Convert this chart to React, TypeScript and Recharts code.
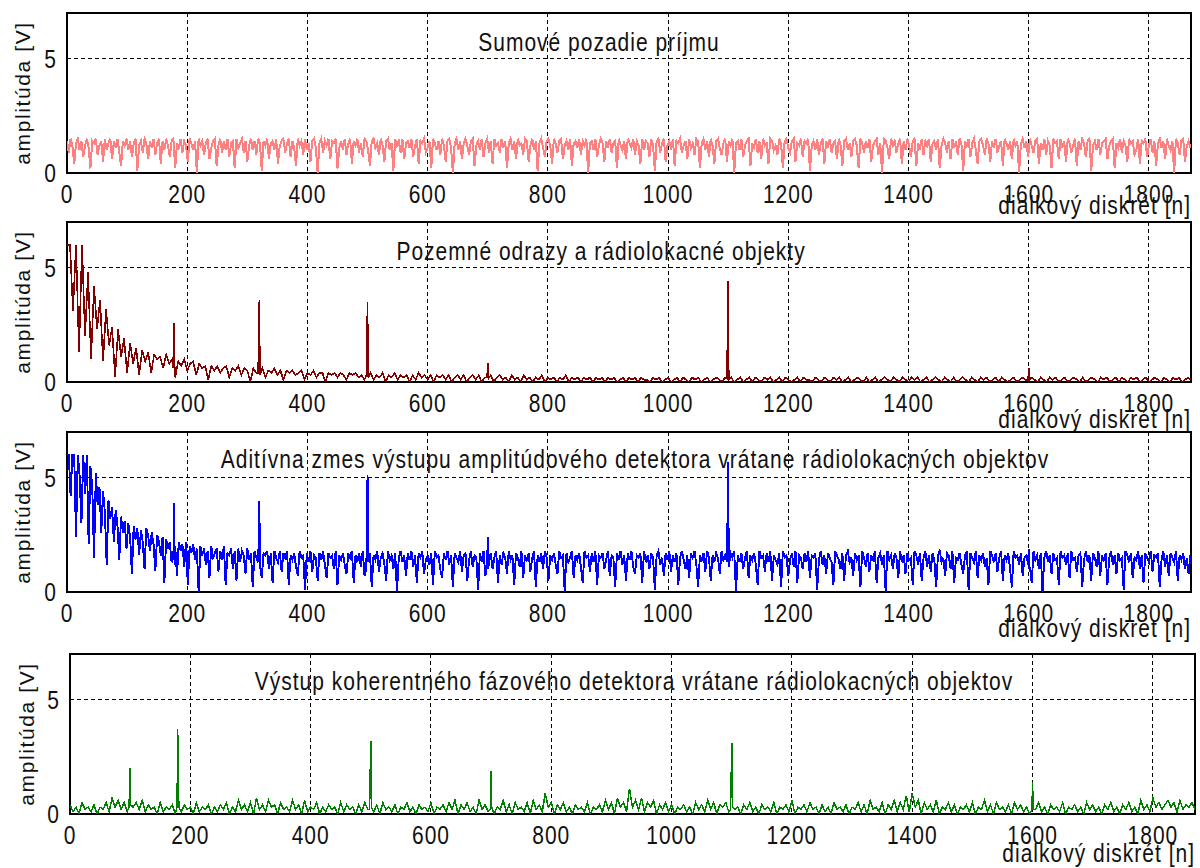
import React from 'react'
import {
  LineChart,
  Line,
  XAxis,
  YAxis,
  CartesianGrid,
  ReferenceArea,
} from 'recharts'

// range bin index n runs 0..1870
const N_MAX = 1870
const X_TICKS = [0, 200, 400, 600, 800, 1000, 1200, 1400, 1600, 1800]
const Y_TICKS = [0, 5]
const X_LABEL = 'dialkový diskrét [n]'
const Y_LABEL = 'amplitúda [V]'

const TITLES = [
  'Sumové pozadie príjmu',
  'Pozemné odrazy a rádiolokacné objekty',
  'Aditívna zmes výstupu amplitúdového detektora vrátane rádiolokacných objektov',
  'Výstup koherentného fázového detektora vrátane rádiolokacných objektov',
]

// receiver noise floor, one reading every 3 bins
const noiseFloorStep = 3
const noiseFloor = [
  1.4, 0.9, 1.5, 1.2, 0.4, 1.3, 1.5, 1.0, 1.4, 0.7, 1.2, 1.5, 1.1, 0.2, 1.4, 1.3, 1.5, 0.8, 1.2, 1.4, 0.5, 1.5, 1.0, 1.3,
  1.5, 0.6, 1.4, 1.1, 1.5, 0.9, 0.3, 1.4, 1.2, 1.5, 1.0, 1.4, 0.7, 1.3, 1.5, 0.1, 1.2, 1.4, 0.9, 1.5, 1.3, 0.6, 1.4, 1.1,
  1.5, 0.8, 1.3, 1.5, 0.4, 1.4, 1.0, 1.5, 1.2, 0.7, 1.4, 1.5, 0.2, 1.3, 1.1, 1.5, 0.9, 1.4, 1.2, 0.5, 1.5, 1.3, 1.0, 1.4,
  0.0, 1.5, 1.2, 1.4, 0.8, 1.3, 1.5, 0.6, 1.1, 1.4, 1.5, 0.3, 1.2, 1.5, 0.9, 1.4, 1.0, 1.5, 0.7, 1.3, 1.4, 0.2, 1.5, 1.1,
  1.3, 1.5, 0.9, 1.4, 0.5, 1.2, 1.5, 1.0, 1.4, 0.8, 1.5, 1.3, 0.1, 1.4, 1.2, 1.5, 0.6, 1.3, 1.4, 1.0, 1.5, 0.4, 1.2, 1.4,
  1.5, 0.9, 1.3, 1.5, 0.7, 1.4, 1.1, 0.3, 1.5, 1.2, 1.4, 0.8, 1.5, 1.0, 1.3, 0.5, 1.4, 1.5, 1.1, 0.0, 1.3, 1.5, 0.9, 1.4,
  1.2, 1.5, 0.6, 1.4, 1.3, 1.5, 0.2, 1.1, 1.4, 1.0, 1.5, 0.8, 1.3, 1.5, 0.4, 1.4, 1.2, 1.5, 0.9, 1.3, 0.7, 1.5, 1.4, 1.0,
  0.3, 1.4, 1.5, 1.1, 1.3, 0.8, 1.5, 1.2, 0.5, 1.4, 1.5, 1.0, 1.3, 0.1, 1.5, 1.2, 1.4, 0.9, 1.5, 0.6, 1.3, 1.4, 1.1, 1.5,
  0.7, 1.2, 1.5, 0.4, 1.4, 1.3, 1.5, 0.9, 1.1, 1.4, 0.2, 1.5, 1.3, 1.0, 1.4, 0.8, 1.5, 1.2, 0.5, 1.4, 1.5, 1.1, 0.0, 1.3,
  1.5, 1.0, 1.4, 0.6, 1.3, 1.5, 1.2, 0.8, 1.4, 1.5, 0.3, 1.2, 1.4, 1.0, 1.5, 0.7, 1.3, 1.5, 0.9, 1.4, 0.4, 1.5, 1.2, 1.3,
  0.9, 1.5, 1.1, 1.4, 0.2, 1.3, 1.5, 1.0, 1.4, 0.6, 1.5, 1.2, 1.3, 0.8, 1.5, 1.4, 0.5, 1.2, 1.5, 1.0, 1.4, 0.1, 1.3, 1.5,
  1.1, 0.7, 1.4, 1.5, 1.2, 0.4, 1.5, 1.3, 0.9, 1.4, 1.5, 0.6, 1.2, 1.4, 1.0, 1.5, 0.3, 1.3, 1.4, 1.1, 1.5, 0.8, 1.4, 1.2,
  1.5, 0.0, 1.3, 1.4, 1.0, 1.5, 0.7, 1.2, 1.5, 1.3, 0.5, 1.4, 1.1, 1.5, 0.9, 1.3, 1.4, 0.2, 1.5, 1.2, 1.0, 1.4, 0.6, 1.5,
  1.3, 1.1, 1.5, 0.8, 1.4, 1.2, 0.4, 1.5, 1.0, 1.4, 1.3, 0.7, 1.5, 1.2, 0.1, 1.4, 1.5, 0.9, 1.3, 1.5, 0.5, 1.2, 1.4, 1.0,
  1.5, 0.3, 1.4, 1.3, 1.5, 0.9, 1.2, 1.4, 0.6, 1.5, 1.1, 1.3, 0.8, 1.5, 1.4, 0.2, 1.3, 1.5, 1.0, 1.4, 0.7, 1.5, 1.2, 0.4,
  1.4, 1.5, 1.1, 0.8, 1.3, 1.5, 0.5, 1.4, 1.2, 1.5, 0.0, 1.3, 1.4, 1.0, 1.5, 0.7, 1.2, 1.4, 1.5, 0.3, 1.3, 1.1, 1.5, 0.9,
  1.4, 0.6, 1.5, 1.2, 1.3, 0.4, 1.5, 1.4, 1.0, 1.2, 0.8, 1.5, 1.3, 0.2, 1.4, 1.5, 1.1, 0.9, 1.4, 1.5, 0.5, 1.3, 1.2, 1.5,
  0.7, 1.4, 1.3, 1.5, 0.1, 1.2, 1.4, 1.0, 1.5, 0.8, 1.3, 1.5, 0.4, 1.4, 1.1, 1.5, 0.9, 1.3, 1.4, 0.6, 1.5, 1.2, 0.3, 1.4,
  1.5, 1.0, 1.3, 0.7, 1.4, 1.5, 1.2, 0.2, 1.5, 1.3, 0.9, 1.4, 1.1, 1.5, 0.5, 1.2, 1.4, 1.5, 0.8, 1.3, 0.0, 1.5, 1.4, 1.1,
  0.6, 1.5, 1.2, 1.4, 0.9, 1.3, 1.5, 0.4, 1.4, 1.0, 1.5, 1.2, 0.7, 1.4, 1.5, 0.3, 1.3, 1.1, 1.5, 0.8, 1.4, 1.2, 1.5, 0.5,
  1.3, 1.4, 1.0, 1.5, 0.2, 1.2, 1.5, 1.3, 0.9, 1.4, 0.6, 1.5, 1.1, 1.4, 0.8, 1.5, 1.3, 0.1, 1.4, 1.2, 1.5, 0.7, 1.3, 1.5,
  1.0, 0.4, 1.4, 1.5, 1.2, 0.8, 1.5, 1.3, 0.5, 1.4, 1.1, 1.5, 0.9, 1.2, 1.4, 0.3, 1.5, 1.3, 1.0, 1.4, 0.6, 1.5, 1.2, 1.4,
  0.0, 1.3, 1.5, 1.1, 1.4, 0.7, 1.5, 1.2, 0.9, 1.4, 1.5, 0.4, 1.3, 1.0, 1.5, 0.8, 1.4, 1.2, 0.2, 1.5, 1.3, 1.4, 0.6, 1.5,
  1.1, 1.4, 0.5, 1.5, 1.3, 0.9, 1.2, 1.5, 0.3, 1.4, 1.0, 1.5, 1.3, 0.7, 1.4, 1.5, 0.1, 1.2, 1.4, 1.0, 1.5, 0.8, 1.3, 1.4,
  1.5, 0.6, 1.2, 1.4, 1.5, 0.2, 1.3, 1.1, 1.5, 0.9, 1.4, 1.2, 0.5, 1.5, 1.3, 1.4, 0.8, 1.0, 1.5, 0.4, 1.4, 1.3, 1.5, 0.7,
  1.2, 1.5, 0.9, 1.4, 0.3, 1.3, 1.5, 1.1, 1.4, 0.6, 1.5, 1.2, 1.0, 1.4, 0.0, 1.5, 1.3, 0.8, 1.4, 1.5, 0.5, 1.2, 1.4, 1.1,
]

// ground clutter (saturates at 6 V near the radar), one reading every 5 bins
const clutterStep = 5
const clutter = [
  6.0, 6.0, 3.1, 6.0, 1.3, 6.0, 2.0, 4.8, 1.0, 4.2, 2.3, 3.6, 0.9, 3.2, 1.6, 2.4, 0.2, 2.3, 1.1, 1.9, 0.4, 1.7, 0.8, 1.5, 0.3,
  1.4, 0.9, 1.3, 0.4, 1.2, 1.0, 1.1, 0.6, 1.2, 0.8, 1.0, 0.2, 0.9, 0.7, 1.0, 0.5, 0.8, 0.9, 0.3, 0.8, 0.6, 0.7, 0.1, 0.7, 0.5,
  0.7, 0.4, 0.6, 0.7, 0.2, 0.6, 0.5, 0.7, 0.3, 0.6, 0.5, 0.0, 0.6, 0.4, 0.5, 0.6, 0.2, 0.5, 0.4, 0.6, 0.3, 0.5, 0.1, 0.5, 0.4,
  0.5, 0.3, 0.4, 0.5, 0.1, 0.4, 0.3, 0.5, 0.2, 0.4, 0.4, 0.0, 0.4, 0.3, 0.4, 0.2, 0.4, 0.3, 0.1, 0.4, 0.3, 0.4, 0.2, 0.3, 0.1,
  0.2, 0.4, 0.1, 0.3, 0.2, 0.4, 0.0, 0.3, 0.2, 0.4, 0.1, 0.3, 0.2, 0.3, 0.0, 0.3, 0.1, 0.4, 0.2, 0.3, 0.1, 0.3, 0.0, 0.3, 0.2,
  0.3, 0.1, 0.3, 0.0, 0.2, 0.3, 0.1, 0.3, 0.0, 0.2, 0.3, 0.1, 0.3, 0.0, 0.2, 0.1, 0.3, 0.0, 0.2, 0.3, 0.1, 0.2, 0.0, 0.3, 0.1,
  0.2, 0.0, 0.3, 0.1, 0.2, 0.0, 0.2, 0.1, 0.3, 0.0, 0.2, 0.1, 0.2, 0.0, 0.2, 0.1, 0.3, 0.0, 0.2, 0.1, 0.2, 0.0, 0.2, 0.1, 0.2,
  0.0, 0.2, 0.1, 0.2, 0.0, 0.2, 0.1, 0.2, 0.0, 0.1, 0.2, 0.0, 0.2, 0.1, 0.2, 0.0, 0.2, 0.1, 0.1, 0.0, 0.2, 0.1, 0.2, 0.0, 0.1,
  0.2, 0.0, 0.1, 0.2, 0.0, 0.2, 0.1, 0.0, 0.2, 0.1, 0.2, 0.0, 0.1, 0.2, 0.0, 0.1, 0.2, 0.1, 0.0, 0.2, 0.1, 0.2, 0.0, 0.1, 0.2,
  0.0, 0.1, 0.2, 0.0, 0.2, 0.1, 0.0, 0.2, 0.1, 0.2, 0.0, 0.1, 0.2, 0.0, 0.2, 0.1, 0.0, 0.1, 0.2, 0.0, 0.2, 0.1, 0.1, 0.0, 0.2,
  0.1, 0.0, 0.2, 0.1, 0.0, 0.2, 0.1, 0.2, 0.0, 0.1, 0.2, 0.0, 0.1, 0.2, 0.1, 0.0, 0.2, 0.0, 0.1, 0.2, 0.0, 0.1, 0.2, 0.1, 0.0,
  0.2, 0.1, 0.0, 0.2, 0.1, 0.0, 0.2, 0.1, 0.2, 0.0, 0.1, 0.2, 0.0, 0.1, 0.2, 0.1, 0.0, 0.2, 0.1, 0.0, 0.2, 0.0, 0.1, 0.2, 0.1,
  0.0, 0.2, 0.1, 0.0, 0.2, 0.1, 0.2, 0.0, 0.1, 0.2, 0.0, 0.2, 0.1, 0.0, 0.1, 0.2, 0.0, 0.1, 0.2, 0.1, 0.0, 0.2, 0.1, 0.0, 0.2,
  0.1, 0.0, 0.2, 0.1, 0.2, 0.0, 0.1, 0.2, 0.0, 0.1, 0.2, 0.1, 0.0, 0.2, 0.0, 0.1, 0.2, 0.1, 0.0, 0.2, 0.1, 0.2, 0.0, 0.1, 0.2,
  0.0, 0.2, 0.1, 0.0, 0.2, 0.1, 0.2, 0.0, 0.1, 0.2, 0.0, 0.1, 0.2, 0.1, 0.0, 0.2, 0.1, 0.0, 0.2, 0.1, 0.2, 0.0, 0.1, 0.2, 0.1,
]
const clutterSpikeN = [177, 178, 179, 318, 319, 320, 321, 498, 499, 500, 501, 699, 700, 701, 1098, 1099, 1100, 1101, 1599, 1600, 1601]
const clutterSpikeV = [0.6, 2.6, 0.8, 0.4, 1.9, 3.6, 0.3, 0.3, 1.8, 3.5, 0.2, 0.2, 0.85, 0.15, 0.15, 2.3, 4.4, 0.1, 0.1, 0.6, 0.1]

// amplitude detector output: clutter + noise + targets, one reading every 3 bins
const mixtureStep = 3
const mixture = [
  6.0, 6.0, 4.2, 6.0, 6.0, 2.4, 6.0, 5.1, 3.0, 6.0, 4.3, 6.0, 2.1, 5.5, 4.6, 1.5, 5.2, 3.8, 4.6, 2.6, 4.4, 3.5, 1.2, 4.0,
  3.2, 3.7, 2.2, 3.6, 2.9, 1.4, 3.3, 2.6, 3.1, 1.9, 3.0, 2.4, 0.8, 2.9, 2.3, 2.8, 1.6, 2.7, 2.2, 1.0, 2.8, 2.5, 1.8, 2.6,
  2.1, 0.9, 2.5, 2.2, 1.6, 2.4, 0.4, 2.3, 1.9, 2.2, 1.3, 2.4, 2.0, 0.7, 2.2, 1.8, 2.1, 1.1, 2.2, 0.3, 2.0, 1.7, 2.1, 1.4,
  1.9, 0.0, 2.0, 1.6, 1.9, 1.2, 1.8, 0.6, 2.0, 1.5, 1.7, 1.9, 0.9, 1.8, 1.4, 2.0, 0.3, 1.7, 1.6, 1.9, 1.0, 1.8, 0.5, 1.9,
  1.3, 1.8, 1.6, 0.8, 1.9, 1.4, 1.7, 0.2, 1.8, 1.5, 1.2, 1.9, 0.6, 1.7, 1.6, 1.8, 1.0, 1.7, 0.4, 1.8, 1.5, 1.3, 1.8, 0.9,
  1.7, 1.5, 1.8, 0.3, 1.6, 1.4, 1.7, 1.1, 0.7, 1.8, 1.5, 1.6, 0.1, 1.7, 1.3, 1.8, 0.9, 1.6, 1.5, 0.5, 1.7, 1.4, 1.8, 1.2,
  0.6, 1.7, 1.5, 1.6, 1.0, 1.8, 0.3, 1.6, 1.4, 1.7, 1.2, 0.8, 1.7, 1.5, 1.8, 0.4, 1.6, 1.3, 1.7, 1.1, 1.8, 0.7, 1.6, 1.5,
  1.7, 0.2, 1.6, 1.4, 1.8, 0.9, 1.5, 1.7, 1.2, 0.5, 1.8, 1.4, 1.6, 1.0, 1.7, 0.0, 1.5, 1.8, 1.3, 1.6, 0.7, 1.7, 1.4, 1.8,
  1.1, 1.6, 0.4, 1.7, 1.5, 1.8, 0.8, 1.4, 1.6, 1.2, 1.7, 0.3, 1.8, 1.5, 1.6, 1.0, 0.6, 1.7, 1.4, 1.8, 1.2, 1.6, 0.2, 1.7,
  1.5, 1.3, 1.8, 0.9, 1.6, 1.7, 0.5, 1.4, 1.8, 1.1, 1.6, 1.5, 0.1, 1.7, 1.3, 1.8, 0.7, 1.6, 1.4, 1.7, 1.0, 1.5, 1.8, 0.4,
  1.6, 1.2, 1.7, 1.5, 0.8, 1.8, 1.4, 1.6, 0.3, 1.7, 1.5, 1.1, 1.8, 0.6, 1.6, 1.4, 1.7, 0.9, 1.5, 1.8, 0.2, 1.6, 1.3, 1.7,
  1.0, 1.8, 1.5, 0.5, 1.6, 1.4, 1.7, 1.2, 0.8, 1.8, 1.5, 1.6, 0.0, 1.7, 1.3, 1.5, 1.8, 0.6, 1.6, 1.4, 1.7, 1.1, 0.4, 1.8,
  1.5, 1.6, 0.9, 1.7, 1.3, 1.8, 0.3, 1.6, 1.5, 1.7, 1.0, 1.4, 1.8, 0.7, 1.6, 1.5, 0.2, 1.7, 1.4, 1.8, 1.2, 1.6, 0.5, 1.7,
  1.4, 1.8, 1.1, 0.8, 1.6, 1.5, 1.7, 0.4, 1.8, 1.3, 1.6, 1.0, 1.7, 1.5, 0.1, 1.6, 1.8, 1.2, 1.5, 0.7, 1.7, 1.4, 1.8, 0.9,
  1.6, 1.3, 1.7, 0.3, 1.5, 1.8, 1.4, 1.0, 1.6, 0.6, 1.7, 1.5, 1.8, 1.2, 0.2, 1.6, 1.4, 1.7, 0.9, 1.8, 1.5, 0.5, 1.6, 1.3,
  1.7, 1.5, 0.8, 1.8, 1.4, 1.6, 1.1, 0.4, 1.7, 1.5, 1.8, 0.0, 1.6, 1.3, 1.7, 1.0, 1.5, 1.8, 0.6, 1.6, 1.4, 1.7, 1.2, 0.3,
  1.8, 1.5, 1.6, 0.9, 1.7, 1.3, 1.8, 0.5, 1.6, 1.4, 1.2, 1.7, 0.2, 1.8, 1.5, 1.6, 0.7, 1.4, 1.7, 1.1, 1.8, 0.4, 1.6, 1.5,
  1.0, 1.7, 1.3, 1.8, 0.6, 1.6, 1.5, 1.7, 0.1, 1.4, 1.8, 1.2, 1.6, 0.8, 1.7, 1.5, 1.3, 0.3, 1.8, 1.6, 1.4, 1.0, 1.7, 0.5,
  1.6, 1.8, 1.3, 1.5, 0.7, 1.7, 1.4, 1.6, 0.2, 1.8, 1.5, 1.1, 1.7, 0.9, 1.6, 1.4, 1.8, 0.4, 1.5, 1.7, 1.2, 1.6, 0.0, 1.8,
  1.4, 1.6, 1.0, 1.7, 1.5, 0.6, 1.8, 1.3, 1.6, 0.8, 1.7, 1.4, 1.5, 0.3, 1.8, 1.6, 1.2, 1.7, 0.5, 1.5, 1.8, 1.1, 1.6, 0.9,
  1.7, 1.4, 0.2, 1.6, 1.8, 1.3, 1.5, 0.7, 1.7, 1.6, 1.0, 1.8, 0.4, 1.5, 1.4, 1.7, 1.2, 0.8, 1.6, 1.8, 0.1, 1.7, 1.5, 1.3,
  1.8, 0.6, 1.6, 1.4, 1.7, 1.1, 1.5, 0.3, 1.8, 1.6, 1.3, 1.7, 0.9, 1.5, 1.8, 0.5, 1.6, 1.4, 1.7, 1.0, 0.2, 1.8, 1.5, 1.6,
  1.2, 1.7, 0.7, 1.5, 1.6, 1.9, 1.1, 0.4, 1.8, 1.4, 1.6, 1.0, 1.7, 0.0, 1.5, 1.8, 1.3, 1.6, 0.8, 1.7, 1.4, 1.5, 0.3, 1.8,
  1.5, 1.6, 1.2, 1.7, 0.6, 1.8, 1.4, 1.5, 0.9, 1.6, 1.7, 0.2, 1.4, 1.8, 1.3, 1.6, 0.5, 1.7, 1.5, 1.1, 1.8, 0.7, 1.6, 1.4,
  1.7, 0.3, 1.5, 1.8, 1.2, 1.6, 0.8, 1.7, 1.4, 1.5, 0.1, 1.8, 1.6, 1.3, 1.7, 0.6, 1.5, 1.4, 1.8, 1.0, 1.6, 0.4, 1.7, 1.5,
  1.3, 1.8, 0.9, 1.6, 1.5, 1.7, 0.2, 1.4, 1.8, 1.1, 1.6, 0.7, 1.7, 1.5, 1.3, 1.8, 0.5, 1.6, 1.4, 1.7, 1.0, 1.5, 0.8, 1.6,
]
const mixtureSpikeN = [177, 178, 179, 318, 319, 320, 321, 498, 499, 500, 501, 699, 700, 701, 1098, 1099, 1100, 1101, 1599, 1600, 1601]
const mixtureSpikeV = [1.5, 3.9, 1.2, 1.3, 2.4, 4.0, 1.2, 1.0, 3.3, 5.1, 1.3, 1.2, 2.4, 1.0, 1.3, 3.4, 5.7, 1.1, 1.2, 1.9, 1.0]

// coherent phase detector output, one reading every 5 bins
const coherentStep = 5
const coherent = [
  0.4, 0.1, 0.3, 0.0, 0.5, 0.2, 0.3, 0.1, 0.4, 0.0, 0.3, 0.2, 0.5, 0.1, 0.7, 0.3, 0.6, 0.2, 0.5, 0.1, 0.7, 0.3, 0.5, 0.2, 0.6,
  0.1, 0.4, 0.2, 0.3, 0.0, 0.5, 0.1, 0.3, 0.2, 0.4, 0.0, 0.3, 0.1, 0.4, 0.2, 0.3, 0.0, 0.5, 0.1, 0.3, 0.2, 0.4, 0.0, 0.3, 0.1,
  0.4, 0.2, 0.5, 0.0, 0.3, 0.1, 0.6, 0.2, 0.4, 0.1, 0.5, 0.0, 0.7, 0.2, 0.4, 0.1, 0.6, 0.3, 0.4, 0.0, 0.5, 0.2, 0.3, 0.1, 0.6,
  0.2, 0.4, 0.0, 0.6, 0.1, 0.3, 0.2, 0.5, 0.0, 0.3, 0.1, 0.4, 0.2, 0.3, 0.0, 0.5, 0.1, 0.4, 0.2, 0.3, 0.0, 0.4, 0.1, 0.5, 0.2,
  0.3, 0.1, 0.4, 0.0, 0.5, 0.2, 0.3, 0.1, 0.4, 0.0, 0.3, 0.2, 0.5, 0.1, 0.3, 0.0, 0.4, 0.2, 0.3, 0.1, 0.5, 0.0, 0.3, 0.2, 0.4,
  0.1, 0.5, 0.2, 0.6, 0.0, 0.4, 0.2, 0.5, 0.1, 0.3, 0.0, 0.6, 0.2, 0.4, 0.1, 0.5, 0.0, 0.3, 0.2, 0.6, 0.1, 0.4, 0.0, 0.5, 0.2,
  0.3, 0.1, 0.5, 0.0, 0.6, 0.2, 0.4, 0.1, 0.9, 0.3, 0.5, 0.0, 0.4, 0.2, 0.5, 0.1, 0.3, 0.0, 0.4, 0.2, 0.3, 0.1, 0.5, 0.0, 0.3,
  0.2, 0.4, 0.1, 0.6, 0.2, 0.5, 0.0, 0.7, 0.3, 0.5, 0.1, 1.1, 0.3, 0.6, 0.2, 0.7, 0.1, 0.5, 0.3, 0.6, 0.0, 0.4, 0.2, 0.5, 0.1,
  0.4, 0.0, 0.3, 0.2, 0.4, 0.1, 0.3, 0.0, 0.5, 0.2, 0.4, 0.1, 0.6, 0.2, 0.5, 0.0, 0.4, 0.3, 0.5, 0.1, 0.4, 0.2, 0.3, 0.0, 0.4,
  0.2, 0.5, 0.1, 0.3, 0.0, 0.4, 0.2, 0.3, 0.1, 0.5, 0.0, 0.3, 0.2, 0.4, 0.1, 0.6, 0.0, 0.3, 0.2, 0.4, 0.1, 0.5, 0.2, 0.3, 0.0,
  0.4, 0.1, 0.3, 0.0, 0.5, 0.2, 0.3, 0.1, 0.4, 0.0, 0.3, 0.2, 0.5, 0.1, 0.4, 0.0, 0.6, 0.2, 0.3, 0.1, 0.5, 0.0, 0.4, 0.2, 0.6,
  0.1, 0.5, 0.2, 0.8, 0.1, 0.9, 0.3, 0.6, 0.0, 0.5, 0.2, 0.4, 0.1, 0.6, 0.0, 0.3, 0.2, 0.5, 0.1, 0.4, 0.0, 0.3, 0.2, 0.4, 0.1,
  0.5, 0.0, 0.3, 0.2, 0.6, 0.1, 0.4, 0.0, 0.5, 0.2, 0.3, 0.1, 0.4, 0.0, 0.5, 0.2, 0.4, 0.1, 0.3, 0.0, 0.4, 0.2, 0.5, 0.1, 0.3,
  0.0, 0.4, 0.2, 0.3, 0.1, 0.5, 0.0, 0.3, 0.2, 0.4, 0.1, 0.3, 0.0, 0.5, 0.2, 0.4, 0.1, 0.3, 0.0, 0.4, 0.2, 0.5, 0.1, 0.3, 0.0,
  0.4, 0.2, 0.5, 0.1, 0.3, 0.0, 0.6, 0.2, 0.4, 0.1, 0.7, 0.3, 0.5, 0.2, 0.4, 0.6, 0.3, 0.5, 0.1, 0.6, 0.2, 0.4, 0.3, 0.5, 0.2,
]
const coherentSpikeN = [98, 99, 100, 101, 178, 179, 180, 181, 498, 499, 500, 501, 699, 700, 701, 1098, 1099, 1100, 1101, 1599, 1600, 1601]
const coherentSpikeV = [0.3, 1.0, 2.0, 0.4, 0.3, 3.7, 1.8, 0.3, 0.2, 1.8, 3.2, 0.3, 0.2, 1.9, 0.3, 0.2, 1.6, 3.1, 0.3, 0.2, 1.4, 0.2]

type Pt = { n: number; v: number }

// readings on a regular bin grid, spike samples override/insert at their own bins
function buildSeries(noise: number[], step: number, spikeN: number[] = [], spikeV: number[] = []): Pt[] {
  const pts: Pt[] = noise
    .map((v, i) => ({ n: i * step, v }))
    .filter((p) => p.n <= N_MAX && !spikeN.includes(p.n))
  spikeN.forEach((n, i) => pts.push({ n, v: spikeV[i] }))
  return pts.sort((a, b) => a.n - b.n)
}

const TEXT_STYLE: React.CSSProperties = {
  fontFamily: '"Liberation Sans", Arial, sans-serif',
  fontSize: 21,
  letterSpacing: 1,
  fill: '#111',
}
const STRETCH = 1.2
const MT = 8 // chart top margin
const PLOT_H = 160
const AXIS_H = 54

// MATLAB-style aliased rendering for traces and grid
const CRISP_CSS = `
.recharts-line-curve { shape-rendering: crispEdges; }
.recharts-cartesian-grid line { shape-rendering: crispEdges; }
.recharts-reference-area-rect { shape-rendering: crispEdges; }
`

const XTick = ({ x, y, payload }: any) => (
  <g transform={`translate(${x},${y}) scale(1,${STRETCH})`}>
    <text x={0} y={15} textAnchor="middle" style={TEXT_STYLE}>
      {payload.value}
    </text>
  </g>
)

const YTick = ({ x, y, payload }: any) => (
  <g transform={`translate(${x},${y}) scale(1,${STRETCH})`}>
    <text x={0} y={7.5} textAnchor="end" style={TEXT_STYLE}>
      {payload.value}
    </text>
  </g>
)

interface PanelProps {
  top: number
  left: number
  right: number
  color: string
  lineWidth: number
  title: string
  titleX: number
  titleDy: number
  xLabelDy: number
  yLabelX: number
  data: Pt[]
}

const Panel: React.FC<PanelProps> = ({
  top,
  left,
  right,
  color,
  lineWidth,
  title,
  titleX,
  titleDy,
  xLabelDy,
  yLabelX,
  data,
}) => {
  const plotBottom = MT + PLOT_H
  const titleLabel = () => (
    <g transform={`translate(${titleX},${MT + titleDy}) scale(1,${STRETCH})`}>
      <text x={0} y={0} textAnchor="middle" style={TEXT_STYLE}>
        {title}
      </text>
    </g>
  )
  const xLabel = () => (
    <g transform={`translate(${right},${plotBottom + xLabelDy}) scale(1,${STRETCH})`}>
      <text x={0} y={0} textAnchor="end" style={TEXT_STYLE}>
        {X_LABEL}
      </text>
    </g>
  )
  const yLabel = () => (
    <text
      transform={`translate(${yLabelX},${MT + PLOT_H / 2}) rotate(-90)`}
      textAnchor="middle"
      style={{ ...TEXT_STYLE, letterSpacing: 1.6 }}
    >
      {Y_LABEL}
    </text>
  )

  return (
    <div style={{ position: 'absolute', left: 0, top: top - MT }}>
      <LineChart
        width={1200}
        height={MT + PLOT_H + AXIS_H}
        data={data}
        margin={{ top: MT, right: 1200 - right, bottom: 0, left: 0 }}
      >
        <CartesianGrid stroke="#000" strokeDasharray="4 3" />
        <XAxis
          dataKey="n"
          type="number"
          domain={[0, N_MAX]}
          ticks={X_TICKS}
          interval={0}
          height={AXIS_H}
          axisLine={false}
          tickLine={false}
          tickSize={0}
          tickMargin={12}
          tick={XTick}
          allowDataOverflow
          label={xLabel}
        />
        <YAxis
          type="number"
          domain={[0, 7]}
          ticks={Y_TICKS}
          width={left}
          axisLine={false}
          tickLine={false}
          tickSize={0}
          tickMargin={10}
          tick={YTick}
          allowDataOverflow
          label={yLabel}
        />
        <Line
          type="linear"
          dataKey="v"
          stroke={color}
          strokeWidth={lineWidth}
          strokeLinejoin="miter"
          dot={false}
          isAnimationActive={false}
        />
        <ReferenceArea
          x1={0}
          x2={N_MAX}
          y1={0}
          y2={7}
          fill="none"
          stroke="#000"
          strokeWidth={1.3}
          label={titleLabel}
        />
      </LineChart>
    </div>
  )
}

export default function App() {
  const panels: PanelProps[] = [
    { top: 12.5, left: 67, right: 1191, color: '#ff8080', lineWidth: 2, title: TITLES[0], titleX: 599, titleDy: 38, xLabelDy: 41, yLabelX: 30, data: buildSeries(noiseFloor, noiseFloorStep) },
    { top: 222, left: 67, right: 1191, color: '#800000', lineWidth: 1.6, title: TITLES[1], titleX: 601, titleDy: 38, xLabelDy: 46, yLabelX: 30, data: buildSeries(clutter, clutterStep, clutterSpikeN, clutterSpikeV) },
    { top: 432, left: 67, right: 1191, color: '#0000ff', lineWidth: 1.9, title: TITLES[2], titleX: 635, titleDy: 36, xLabelDy: 45, yLabelX: 30, data: buildSeries(mixture, mixtureStep, mixtureSpikeN, mixtureSpikeV) },
    { top: 654, left: 70, right: 1195, color: '#008000', lineWidth: 1.5, title: TITLES[3], titleX: 634, titleDy: 36, xLabelDy: 48, yLabelX: 34, data: buildSeries(coherent, coherentStep, coherentSpikeN, coherentSpikeV) },
  ]
  return (
    <div
      style={{
        position: 'absolute',
        left: 0,
        top: 0,
        width: 1200,
        height: 868,
        background: '#fff',
        overflow: 'hidden',
      }}
    >
      <style>{CRISP_CSS}</style>
      {panels.map((p, i) => (
        <Panel key={i} {...p} />
      ))}
    </div>
  )
}
